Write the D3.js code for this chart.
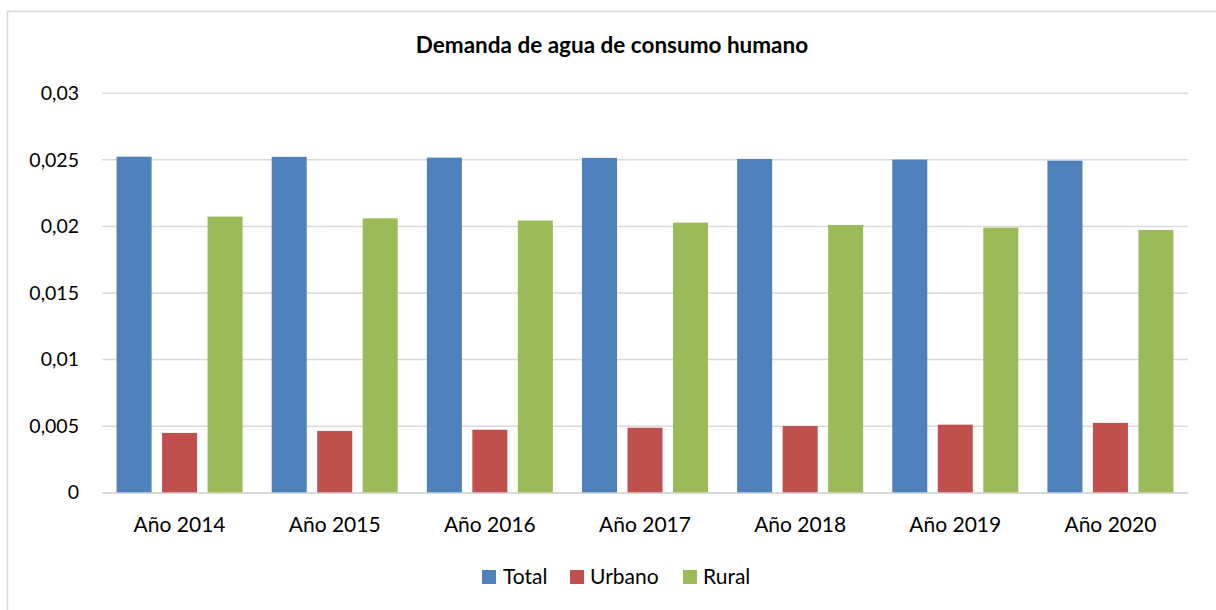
<!DOCTYPE html>
<html>
<head>
<meta charset="utf-8">
<script src="https://cdn.jsdelivr.net/npm/d3@7/dist/d3.min.js"></script>
<style>
  html, body { margin: 0; padding: 0; background: #fff; }
  svg { display: block; font-family: Lato, "Open Sans", sans-serif; }
</style>
</head>
<body>
<svg id="chart" width="1216" height="610"></svg>
<script>
// Demanda de agua de consumo humano, 2014–2020
const categories = ["Año 2014", "Año 2015", "Año 2016", "Año 2017", "Año 2018", "Año 2019", "Año 2020"];
const seriesNames = ["Total", "Urbano", "Rural"];
const totalValues  = [0.02524, 0.02523, 0.02517, 0.02515, 0.02507, 0.02502, 0.02494];
const urbanoValues = [0.00449, 0.00464, 0.00473, 0.00488, 0.00501, 0.00511, 0.00524];
const ruralValues  = [0.02074, 0.02061, 0.02044, 0.02029, 0.02011, 0.01991, 0.01974];
const yTicks = [0, 0.005, 0.01, 0.015, 0.02, 0.025, 0.03];
const yTickLabels = ["0", "0,005", "0,01", "0,015", "0,02", "0,025", "0,03"];
const colors = ["#4f81bd", "#c0504d", "#9bbb59"];

const seriesValues = [totalValues, urbanoValues, ruralValues];
const rows = categories.map((c, i) => ({
  cat: c,
  vals: seriesNames.map((s, k) => ({ key: s, value: seriesValues[k][i] }))
}));

const svg = d3.select("#chart");

// outer frame
svg.append("rect")
  .attr("x", 7.5).attr("y", 11.5)
  .attr("width", 1220).attr("height", 620)
  .attr("fill", "none").attr("stroke", "#d9d9d9").attr("stroke-width", 1.5);

const plot = { left: 102, right: 1188, top: 93.3, bottom: 492.7 };

const x = d3.scaleBand().domain(categories).range([plot.left, plot.right]).paddingInner(0).paddingOuter(0);
const xInner = d3.scaleBand().domain(seriesNames).range([0, x.bandwidth()]).paddingInner(0.23).paddingOuter(0.32);
const y = d3.scaleLinear().domain([0, 0.03]).range([plot.bottom, plot.top]);

// title
svg.append("text")
  .attr("x", 612).attr("y", 53)
  .attr("text-anchor", "middle")
  .attr("font-size", 22.5).attr("font-weight", "bold").attr("fill", "#000")
  .text("Demanda de agua de consumo humano");

// gridlines
svg.append("g")
  .selectAll("line")
  .data(yTicks)
  .join("line")
  .attr("x1", plot.left).attr("x2", plot.right)
  .attr("y1", d => y(d)).attr("y2", d => y(d))
  .attr("stroke", "#d9d9d9").attr("stroke-width", 1.5);

// y axis labels
const yAxis = d3.axisLeft(y).tickValues(yTicks).tickFormat((d, i) => yTickLabels[i]).tickSize(0).tickPadding(0);
svg.append("g")
  .attr("transform", `translate(79,0)`)
  .call(yAxis)
  .call(g => g.select(".domain").remove())
  .call(g => g.selectAll("text")
    .attr("font-family", "Lato, 'Open Sans', sans-serif")
    .attr("font-size", 19.5).attr("fill", "#000"));

// bars
const groups = svg.append("g")
  .selectAll("g")
  .data(rows)
  .join("g")
  .attr("transform", d => `translate(${x(d.cat)},0)`);

groups.selectAll("rect")
  .data(d => d.vals)
  .join("rect")
  .attr("x", d => xInner(d.key))
  .attr("width", xInner.bandwidth())
  .attr("y", d => y(d.value))
  .attr("height", d => y(0) - y(d.value))
  .attr("fill", (d, i) => colors[i]);

// x axis
const xAxis = d3.axisBottom(x).tickSize(0).tickPadding(0);
svg.append("g")
  .attr("transform", `translate(0,${plot.bottom})`)
  .call(xAxis)
  .call(g => g.select(".domain").attr("stroke", "#d9d9d9").attr("stroke-width", 1.5))
  .call(g => g.selectAll("text")
    .attr("dy", 0).attr("y", 39)
    .attr("font-family", "Lato, 'Open Sans', sans-serif")
    .attr("font-size", 21).attr("fill", "#000"));

// legend
const legendItems = [
  { name: "Total", sx: 482, tx: 503 },
  { name: "Urbano", sx: 570, tx: 590 },
  { name: "Rural", sx: 683, tx: 703 }
];
const legend = svg.append("g");
legend.selectAll("rect")
  .data(legendItems)
  .join("rect")
  .attr("x", d => d.sx).attr("y", 570)
  .attr("width", 14).attr("height", 14)
  .attr("fill", (d, i) => colors[i]);
legend.selectAll("text")
  .data(legendItems)
  .join("text")
  .attr("x", d => d.tx).attr("y", 584)
  .attr("font-size", 21).attr("fill", "#000")
  .text(d => d.name);
</script>
</body>
</html>
